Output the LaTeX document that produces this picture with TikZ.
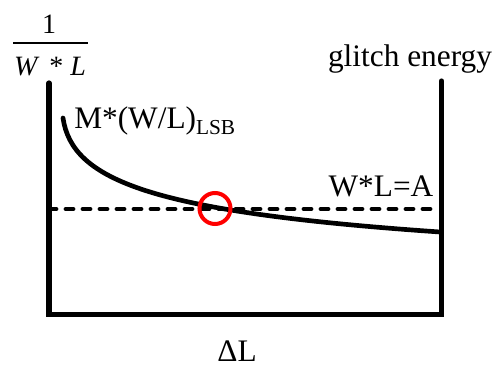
\documentclass[tikz,border=0pt]{standalone}
\usepackage{fontspec}
\setmainfont{Liberation Serif}
\begin{document}
\begin{tikzpicture}[x=0.75pt,y=-0.75pt,
  axisline/.style={line width=3.9pt,line cap=round,line join=miter},
  curveline/.style={line width=3.5pt,line cap=round},
  dashline/.style={line width=3.6pt,line cap=round,dash pattern=on 5.25pt off 7.5pt},
  mark circle/.style={draw=red,line width=3pt,circle,minimum size=31*0.75pt,inner sep=0pt},
  lbl/.style={inner sep=0pt,anchor=base,font=\fontsize{23.5}{27}\selectfont},
  fraclbl/.style={inner sep=0pt,anchor=base,font=\fontsize{21}{24}\selectfont}]
\useasboundingbox (0,0) rectangle (498,367);
% axes
\coordinate (ltop) at (49,83);
\coordinate (origin) at (49,314.5);
\coordinate (rbot) at (441.5,314.5);
\coordinate (rtop) at (441.5,81);
\draw[axisline] (ltop) -- (origin) -- (rbot) -- (rtop);
% dashed level
\coordinate (dl) at (49,209);
\coordinate (dr) at (438,209);
\draw[dashline] (dl) -- (dr);
% curve
\coordinate (cs) at (63,118);
\coordinate (ce) at (440,232);
\draw[curveline] (cs) .. controls (72,180) and (150,212) .. (ce);
% intersection marker
\node[mark circle] (mk) at (215,208.5) {};
% labels
\node[fraclbl] (one) at (49,34) {1};
\node[fraclbl] (wl) at (50,76) {\textit{W}\hspace{0.35em}*\hspace{0.25em}\textit{L}};
\coordinate (barl) at (13,43);
\coordinate (barr) at (88,43);
\draw[line width=1.2pt] (barl) -- (barr);
\node[lbl,anchor=base west] (mlab) at (74,128) {M*(W/L)\raisebox{-5pt}{\fontsize{16}{18}\selectfont LSB}};
\node[lbl] (ge) at (410,67) {glitch energy};
\node[lbl] (wla) at (381,196) {W*L=A};
\node[lbl] (dL) at (237,361) {ΔL};
\end{tikzpicture}
\end{document}
